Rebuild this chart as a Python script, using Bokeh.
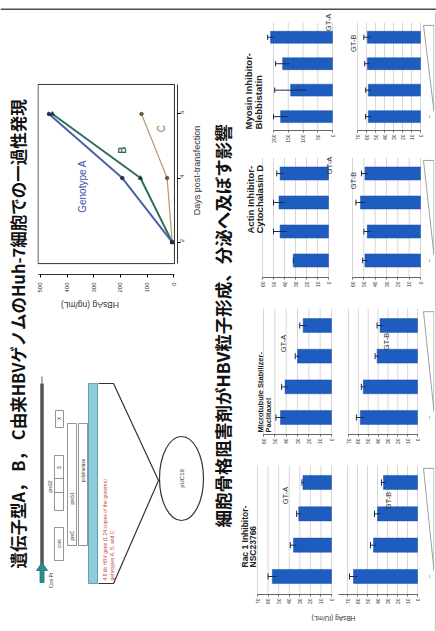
import math
from bokeh.plotting import figure
from bokeh.layouts import row, column
from bokeh.models import Range1d, FixedTicker, Label
from bokeh.embed import file_html
from bokeh.resources import INLINE

PI = math.pi
SANS = "Liberation Sans"
CJK = "Noto Sans CJK JP"

# ---- transient expression time course: HBsAg in supernatant (ng/mL) ----
days = [2, 4, 6]
hbsag_gt_a = [6, 193, 468]
hbsag_gt_b = [6, 125, 455]
hbsag_gt_c = [6, 25, 121]
hbsag_ticks = [0, 100, 200, 300, 400, 500]
day_ticks = [2, 4, 6]

# ---- cytoskeleton inhibitors: bar 1 = untreated, bars 2-4 = rising dose ----
dose_index = [1, 2, 3, 4]
myosin_gt_a = [176, 142, 169, 210]
myosin_gt_a_err = [24, 54, 24, 10]
myosin_gt_b = [58, 58, 59, 59]
myosin_gt_b_err = [3, 3, 3, 4]
actin_gt_a = [32, 44, 45, 44]
actin_gt_a_err = [0, 6, 5, 3]
actin_gt_b = [49, 47, 53, 49]
actin_gt_b_err = [2, 3, 4, 3]
micro_gt_a = [45, 41, 30, 25]
micro_gt_a_err = [4, 3, 2, 3]
micro_gt_b = [58, 55, 41, 38]
micro_gt_b_err = [4, 2, 2, 3]
rac1_gt_a = [56, 36, 31, 27]
rac1_gt_a_err = [4, 3, 2, 1]
rac1_gt_b = [64, 44, 40, 34]
rac1_gt_b_err = [4, 3, 3, 2]

myosin_a_ticks = [0, 50, 100, 150, 200]
myosin_b_ticks = [0, 10, 20, 30, 40, 50, 60, 70]
actin_a_ticks = [0, 10, 20, 30, 40, 50, 60]
actin_b_ticks = [0, 10, 20, 30, 40, 50, 60]
micro_a_ticks = [0, 10, 20, 30, 40, 50, 60]
micro_b_ticks = [0, 10, 20, 30, 40, 50, 60, 70]
rac1_a_ticks = [0, 10, 20, 30, 40, 50, 60, 70]
rac1_b_ticks = [0, 10, 20, 30, 40, 50, 60, 70, 80]

TITLE_1 = "遺伝子型A， B， C由来HBVゲノムのHuh-7細胞での一過性発現"
TITLE_2 = "細胞骨格阻害剤がHBV粒子形成、分泌へ及ぼす影響"


def blank(width, height, xr, yr):
    p = figure(width=width, height=height, x_range=Range1d(*xr), y_range=Range1d(*yr),
               output_backend="svg", toolbar_location=None, min_border=0,
               x_axis_location=None, y_axis_location=None)
    p.grid.visible = False
    p.outline_line_color = None
    p.background_fill_color = "white"
    p.border_fill_color = "white"
    return p


def vtext(p, x, y, s, size, color="#111", font=SANS, bold=False, align="center", angle=PI / 2):
    p.add_layout(Label(x=x, y=y, text=s, angle=angle, text_align=align, text_baseline="middle",
                       text_font=font, text_font_size=f"{size}px", text_color=color,
                       text_font_style="bold" if bold else "normal"))


# ---- page frame strip ----
top_strip = blank(436, 10, (0, 436), (10, 0))
top_strip.segment(x0=[0], y0=[7], x1=[436], y1=[7], line_width=2, line_color="#4d4d4d")

# ---- vertical slide titles ----
t1 = blank(35, 621, (0, 35), (631, 10))
vtext(t1, 17, 568, TITLE_1, 16.5, font=CJK, bold=True, align="left")
t2 = blank(35, 621, (205, 240), (631, 10))
vtext(t2, 222, 527, TITLE_2, 17.5, font=CJK, bold=True, align="left")

# ---- time course line chart (HBsAg axis runs right-to-left, days upward) ----
# the axes sit slightly apart from the plot box, so the frame reaches past the box
lc = figure(width=155, height=285, x_range=Range1d(511, -14), y_range=Range1d(0.99, 6.95),
            output_backend="svg", toolbar_location=None,
            min_border_left=2, min_border_right=13, min_border_top=73, min_border_bottom=21,
            x_axis_location="below", y_axis_location="right")
lc.grid.visible = False
lc.outline_line_color = None
lc.background_fill_color = "white"
lc.border_fill_color = "white"
lc.quad(left=[509], right=[-2.6], bottom=[1.33], top=[6.92], fill_color=None,
        line_color="#333", line_width=1)
lc.line(hbsag_gt_c, days, line_color="#b8966e", line_width=1.2)
lc.line(hbsag_gt_b, days, line_color="#2f6f5c", line_width=2)
lc.line(hbsag_gt_a, days, line_color="#4a63a8", line_width=2)
lc.scatter(hbsag_gt_c, days, size=3.5, color="#6b5a45")
lc.scatter(hbsag_gt_b, days, size=4, marker="triangle", color="#1f3a30")
lc.scatter(hbsag_gt_a, days, size=3.5, color="#22304f")

for ax, ticks, standoff in ((lc.xaxis[0], hbsag_ticks, 5), (lc.yaxis[0], day_ticks, 2)):
    ax.ticker = FixedTicker(ticks=ticks)
    ax.major_label_orientation = PI / 2
    ax.major_label_text_font_size = "6px"
    ax.major_label_text_font = SANS
    ax.major_label_text_color = "#333"
    ax.major_tick_out = 3
    ax.major_tick_in = 0
    ax.major_label_standoff = standoff
    ax.axis_line_color = "#333"
lc.xaxis[0].bounds = (-2.6, 509)
lc.yaxis[0].bounds = (1.33, 6.92)

vtext(lc, 343, 3.74, "Genotype A", 10, color="#3b4fa8")
vtext(lc, 191, 4.87, "B", 10, color="#2f6b4a", bold=True)
vtext(lc, 46, 5.54, "C", 10, color="#a07040")

# axis titles of the time course, set beside the plot
x_title = blank(155, 27, (35, 190), (322, 295))
vtext(x_title, 93, 304, "HBsAg (ng/mL)", 8.5, color="#333", angle=PI)
y_title = blank(15, 312, (190, 205), (322, 10))
vtext(y_title, 196.5, 170, "Days post-transfection", 9, color="#333")

# ---- HBV genome construct schematic (page pixel layout) ----
gm = blank(170, 309, (35, 205), (631, 322))
gm.segment(x0=[41.5], y0=[376], x1=[41.5], y1=[383], line_width=1, line_color="#5a5a5a")
gm.segment(x0=[41.5], y0=[383], x1=[41.5], y1=[571], line_width=3.5, line_color="#555")
gm.patch([39.5, 43.5, 43.5, 47, 41.5, 36, 39.5], [582, 582, 570, 570, 562, 570, 570],
         fill_color="#2a8f8f", line_color="#1f6f6f", line_width=0.8)
gm.quad(left=[54, 54, 55, 67, 78], right=[63, 63, 63, 76, 87],
        top=[527, 455, 410, 423, 423], bottom=[560, 510, 427, 545, 545],
        fill_color="white", line_color="#7a7a7a", line_width=0.8)
gm.segment(x0=[54, 54], y0=[478, 492], x1=[63, 63], y1=[478, 492], line_color="#7a7a7a", line_width=0.8)
for (gx, gy, gs) in [(58.5, 543, "core"), (58.5, 467, "S"), (59, 418, "X"), (50, 486, "preS2"),
                     (71.5, 498, "preS1"), (71.5, 535, "preC"), (82.5, 470, "polymerase"),
                     (51, 580, "Core Pr")]:
    vtext(gm, gx, gy, gs, 4.5, color="#333")
gm.quad(left=[88], right=[97], top=[383], bottom=[583], fill_color="#8ccbdc",
        line_color="#4d8fa5", line_width=0.8)
vtext(gm, 104, 580, "4.8 kb HBV gene (1.24 copies of the genome)", 5, color="#c24a4a", align="left")
vtext(gm, 111, 580, "genotypes A, B, and C", 5, color="#c24a4a", align="left")
gm.line([98, 113, 158, 113, 98], [383, 383, 480, 583, 583], line_color="#333", line_width=1.2)
gm.ellipse(x=[181], y=[478], width=44, height=84, fill_color=None, line_color="#333", line_width=1.2)
vtext(gm, 181, 478, "pUC19", 6, color="#333")

# ---- bar panels ----
BAR_BLUE = "#1f5cbf"
ROWS = {
    "myosin": dict(top=10, h=135, bb=14, c1=117, c4=37),
    "actin": dict(top=145, h=150, bb=18, c1=260, c4=173),
    "micro": dict(top=295, h=160, bb=21, c1=417, c4=325),
    "rac1": dict(top=455, h=153, bb=14, c1=576, c4=482),
}
COL_LEFT = {"A": 240, "B": 338}
COL_W = {"A": 98, "B": 96}


def bar_panel(rname, gt, vals, errs, ticks, base_px, tick_px, gt_px, titles=None, title_px=None,
              title_size=8):
    r = ROWS[rname]
    left = COL_LEFT[gt]
    w = COL_W[gt]
    s = (base_px - tick_px) / ticks[-1]
    sp = (r["c1"] - r["c4"]) / 3
    fb = r["top"] + r["h"] - r["bb"]

    def X(px):
        return (base_px - px) / s

    def Y(py):
        return 1 + (r["c1"] - py) / sp

    p = figure(width=w, height=r["h"], x_range=Range1d(X(left), X(left + w)),
               y_range=Range1d(Y(fb), Y(r["top"])), output_backend="svg", toolbar_location=None,
               min_border=0, min_border_bottom=r["bb"], x_axis_location="below", y_axis_location=None)
    p.grid.visible = False
    p.outline_line_color = None
    p.background_fill_color = "white"
    p.border_fill_color = "white"
    y0 = Y(fb)
    p.segment(x0=ticks, x1=ticks, y0=[y0] * len(ticks), y1=[4.55] * len(ticks),
              line_color="#cdcdcd", line_width=0.8)
    p.hbar(y=dose_index, left=0, right=vals, height=0.45, fill_color=BAR_BLUE, line_color="#1a4fa6",
           line_width=0.5)
    lo = [v - e for v, e in zip(vals, errs)]
    hi = [v + e for v, e in zip(vals, errs)]
    p.segment(x0=lo, x1=hi, y0=dose_index, y1=dose_index, line_color="#1b2a4a", line_width=1)
    p.segment(x0=hi, x1=hi, y0=[d - 0.1 for d in dose_index], y1=[d + 0.1 for d in dose_index],
              line_color="#1b2a4a", line_width=1)

    ax = p.xaxis[0]
    ax.ticker = FixedTicker(ticks=ticks)
    ax.bounds = (0, ticks[-1])
    ax.major_label_orientation = PI / 2
    ax.major_label_text_font_size = "5px"
    ax.major_label_text_font = SANS
    ax.major_label_text_color = "#333"
    ax.major_label_standoff = 2
    ax.major_tick_out = 2
    ax.major_tick_in = 0
    ax.axis_line_color = "#666"
    ax.major_tick_line_color = "#666"

    vtext(p, X(gt_px[0]), Y(gt_px[1]), "GT-" + gt, 7.5, color="#333")
    if titles:
        for line, (tx, ty) in zip(titles, title_px):
            vtext(p, X(tx), Y(ty), line, title_size, color="#222", bold=True, align="left")
    if gt == "B":
        # dose wedge and untreated marker
        p.patch([X(423), X(433.5), X(433.5)], [4.45, 4.45, 1.2], fill_color=None,
                line_color="#888", line_width=0.8)
        vtext(p, X(428), 1.0, "–", 6, color="#333")
    return p


myoA = bar_panel("myosin", "A", myosin_gt_a, myosin_gt_a_err, myosin_a_ticks, 332, 273, (328, 22),
                 ("Myosin Inhibitor-", "Blebbistatin"), [(248, 130), (257.5, 130)], 9.5)
myoB = bar_panel("myosin", "B", myosin_gt_b, myosin_gt_b_err, myosin_b_ticks, 420, 357, (353, 43))
actA = bar_panel("actin", "A", actin_gt_a, actin_gt_a_err, actin_a_ticks, 328, 262, (329, 165),
                 ("Actin Inhibitor-", "Cytochalasin D"), [(249.5, 233), (259, 233)], 9.5)
actB = bar_panel("actin", "B", actin_gt_b, actin_gt_b_err, actin_b_ticks, 420, 352, (353, 180))
micA = bar_panel("micro", "A", micro_gt_a, micro_gt_a_err, micro_a_ticks, 331, 263, (283, 343),
                 ("Microtubule Stabilizer-", "Paclitaxel"), [(259.5, 432), (268, 432)], 7.5)
micB = bar_panel("micro", "B", micro_gt_b, micro_gt_b_err, micro_b_ticks, 417, 348, (386, 341))
racA = bar_panel("rac1", "A", rac1_gt_a, rac1_gt_a_err, rac1_a_ticks, 331, 257, (285, 495),
                 ("Rac 1 Inhibitor-", "NSC23766"), [(244, 567), (252, 567)], 8.5)
racB = bar_panel("rac1", "B", rac1_gt_b, rac1_gt_b_err, rac1_b_ticks, 417, 337, (388, 500))

bottom_strip = blank(194, 23, (240, 434), (631, 608))
vtext(bottom_strip, 333, 618, "HBsAg (IU/mL)", 6.5, color="#333", angle=PI)

edge = blank(2, 621, (0, 2), (631, 10))
edge.quad(left=[0.3], right=[1.3], top=[12], bottom=[631], fill_color="#bdbdbd", line_color=None)

chart_block = row(column(lc, x_title), y_title)
bars = column(row(myoA, myoB), row(actA, actB), row(micA, micB), row(racA, racB), bottom_strip)
body = row(t1, column(chart_block, gm), t2, bars, edge)
page = column(top_strip, body)

open("out.html", "w").write(file_html(page, INLINE))
